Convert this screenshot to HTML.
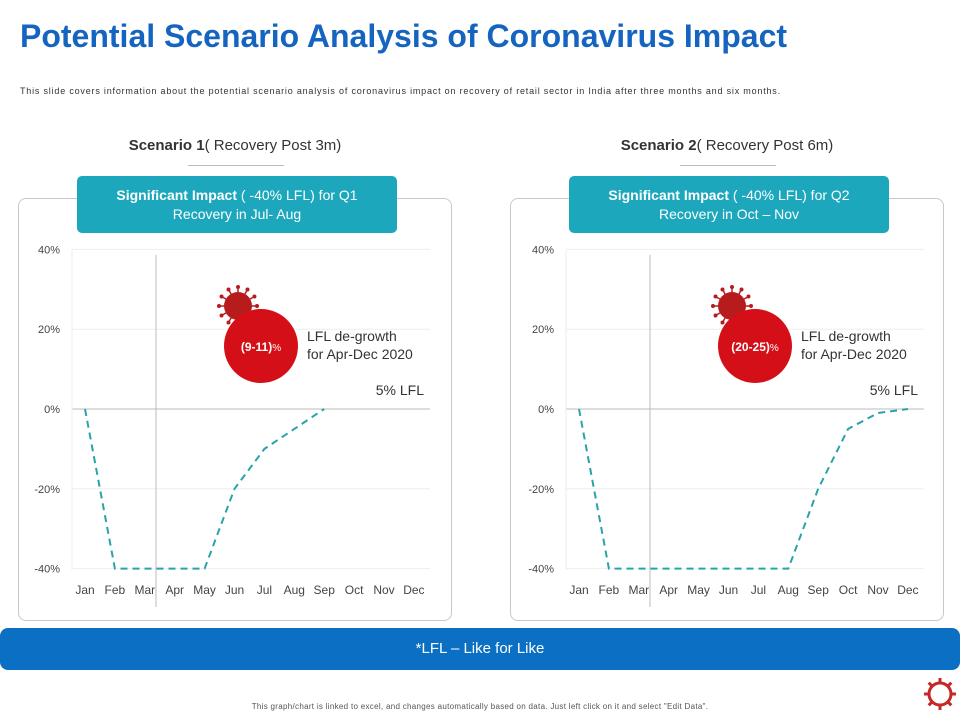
<!DOCTYPE html>
<html><head><meta charset="utf-8"><style>
body{margin:0;width:960px;height:720px;background:#fff;font-family:"Liberation Sans",Arial,sans-serif;position:relative;overflow:hidden}
.abs{position:absolute}
.title{left:20px;top:18px;font-size:32px;font-weight:bold;color:#1565c0}
.sub{left:20px;top:86px;font-size:9px;color:#333;letter-spacing:0.8px;white-space:nowrap}
.sc{font-size:15px;color:#333;text-align:center;width:300px}
.panel{border:1px solid #c8c8c8;border-radius:8px;background:transparent}
.banner{background:#1ca7bd;border-radius:5px;color:#fff;text-align:center;font-size:14px;line-height:19px;padding-top:10px;box-sizing:border-box}
.lbar{left:0;top:628px;width:960px;height:42px;background:#0b6fc4;border-radius:8px;color:#fff;font-size:15px;text-align:center;line-height:42px}
.foot{left:0;width:960px;top:702px;font-size:8px;color:#555;text-align:center;letter-spacing:0.3px}
</style></head><body>
<div class="abs title">Potential Scenario Analysis of Coronavirus Impact</div>
<div class="abs sub">This slide covers information about the potential scenario analysis of coronavirus impact on recovery of retail sector in India after three months and six months.</div>
<div class="abs sc" style="left:85px;top:137px"><b>Scenario 1</b>( Recovery Post 3m)</div>
<div class="abs sc" style="left:577px;top:137px"><b>Scenario 2</b>( Recovery Post 6m)</div>
<div class="abs" style="left:188px;top:165px;width:96px;height:1px;background:#bbb"></div>
<div class="abs" style="left:680px;top:165px;width:96px;height:1px;background:#bbb"></div>
<div class="abs panel" style="left:18px;top:198px;width:432px;height:421px"></div>
<div class="abs panel" style="left:510px;top:198px;width:432px;height:421px"></div>
<svg class="abs" style="left:0;top:0" width="960" height="720" id="svg"></svg>
<div class="abs banner" style="left:77px;top:176px;width:320px;height:57px"><b>Significant Impact</b> ( -40% LFL) for Q1<br>Recovery in Jul- Aug</div>
<div class="abs banner" style="left:569px;top:176px;width:320px;height:57px"><b>Significant Impact</b> ( -40% LFL) for Q2<br>Recovery in Oct – Nov</div>
<div class="abs lbar">*LFL – Like for Like</div>
<div class="abs foot">This graph/chart is linked to excel, and changes automatically based on data. Just left click on it and select "Edit Data".</div>
<script>
const months=["Jan","Feb","Mar","Apr","May","Jun","Jul","Aug","Sep","Oct","Nov","Dec"];
const yTicks=[40,20,0,-20,-40];
const series1=[0,-40,-40,-40,-40,-20,-10,-5,0,null,null,null];
const series2=[0,-40,-40,-40,-40,-40,-40,-40,-20,-5,-1,0];
const badges=["(9-11)","(20-25)"];
const NS="http://www.w3.org/2000/svg";
const svg=document.getElementById('svg');
function mk(t,a,p){const e=document.createElementNS(NS,t);for(const k in a)e.setAttribute(k,a[k]);(p||svg).appendChild(e);return e;}
function chart(ox,data,badge,idx){
  const xS=i=>ox+85+i*29.9;
  const yS=v=>409-v*3.99;
  yTicks.forEach(t=>{
    const l=mk('line',{x1:ox+72,x2:ox+430,y1:yS(t),y2:yS(t),stroke:t===0?'#bbb':'#eee','stroke-width':1});
    
    
    const tx=mk('text',{x:ox+60,y:yS(t)+4,'text-anchor':'end','font-size':11,fill:'#444','font-family':'Liberation Sans'});
    tx.textContent=t+'%';
    
    
  });
  mk('line',{x1:ox+72,x2:ox+72,y1:250,y2:570,stroke:'#eee'});
  mk('line',{x1:ox+156,x2:ox+156,y1:255,y2:607,stroke:'#bbb'});
  months.forEach((m,i)=>{
    const tx=mk('text',{x:xS(i),y:594,'text-anchor':'middle','font-size':12,fill:'#444','font-family':'Liberation Sans'});
    tx.textContent=m;
    
    
  });
  let d='';data.forEach((v,i)=>{if(v!==null)d+=(d?'L':'M')+xS(i)+','+yS(v);});
  const p=mk('path',{d:d,fill:'none',stroke:'#2aa3a8','stroke-width':2,'stroke-dasharray':'7,5'});
  
  
  const g=mk('g',{});
  
  
  const vx=ox+238,vy=306;
  for(let a=0;a<12;a++){const r=a*Math.PI/6;mk('line',{x1:vx+Math.cos(r)*12,y1:vy+Math.sin(r)*12,x2:vx+Math.cos(r)*19,y2:vy+Math.sin(r)*19,stroke:'#b71c1c','stroke-width':1.5},g);mk('circle',{cx:vx+Math.cos(r)*19,cy:vy+Math.sin(r)*19,r:2,fill:'#b71c1c'},g);}
  mk('circle',{cx:vx,cy:vy,r:14,fill:'#b71c1c'},g);
  mk('circle',{cx:ox+261,cy:346,r:37,fill:'#d50f18'},g);
  const bt=mk('text',{x:ox+261,y:351,'text-anchor':'middle','font-size':12,fill:'#fff','font-weight':'bold','font-family':'Liberation Sans'},g);
  bt.innerHTML=badge+'<tspan font-weight="normal" font-size="10">%</tspan>';
  const t1=mk('text',{x:ox+307,y:341,'font-size':14,fill:'#333','font-family':'Liberation Sans'});t1.textContent='LFL de-growth';
  
  
  const t2=mk('text',{x:ox+307,y:359,'font-size':14,fill:'#333','font-family':'Liberation Sans'});t2.textContent='for Apr-Dec 2020';
  const t3=mk('text',{x:ox+424,y:395,'text-anchor':'end','font-size':14,fill:'#333','font-family':'Liberation Sans'});t3.textContent='5% LFL';
  
  
}
chart(0,series1,badges[0],1);
chart(494,series2,badges[1],2);
const g=mk('g',{});


for(let a=0;a<8;a++){const r=a*Math.PI/4;mk('line',{x1:940+Math.cos(r)*10,y1:694+Math.sin(r)*10,x2:940+Math.cos(r)*16,y2:694+Math.sin(r)*16,stroke:'#c62828','stroke-width':3},g);}
mk('circle',{cx:940,cy:694,r:11,fill:'none',stroke:'#c62828','stroke-width':3},g);
</script>
</body></html>
